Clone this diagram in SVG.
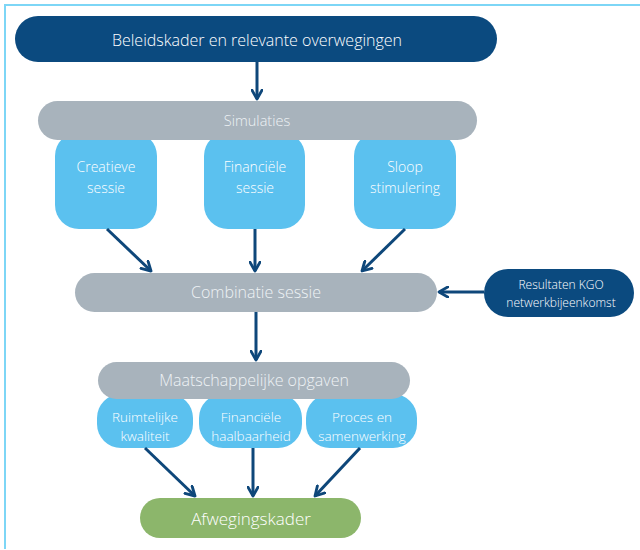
<svg xmlns="http://www.w3.org/2000/svg" width="640" height="550" viewBox="0 0 640 550">
<defs>
<style>
text{font-family:"Open Sans","Noto Sans","DejaVu Sans",sans-serif;font-weight:300;fill:#ffffff;text-anchor:middle;dominant-baseline:central}
.dark{fill:#0b4a7f}
.gray{fill:#a8b3bc}
.light{fill:#5bc1ef}
.green{fill:#8cb66b}
.t16{font-size:16px}
.t17{font-size:17px}
.t14{font-size:14.5px}
.t13{font-size:14px}
.t12{font-size:13.5px}
.t11{font-size:12px}
.graytxt{fill:#eef2f5}
.conn{stroke:#0e477a;stroke-width:3;fill:none;marker-end:url(#ah)}
</style>
<marker id="ah" viewBox="0 0 10 10" refX="8" refY="5" markerWidth="4.3" markerHeight="4.3" orient="auto" markerUnits="strokeWidth">
<path d="M1,1 L8,5 L1,9" fill="none" stroke="#0e477a" stroke-width="2.2" stroke-linecap="round" stroke-linejoin="round"/>
</marker>
</defs>
<rect width="640" height="550" fill="#ffffff"/>
<path d="M5,549 L5,5 L640,5" fill="none" stroke="#7dd6f6" stroke-width="2"/>

<g id="node-beleidskader">
<rect class="dark" x="15" y="16" width="482" height="46" rx="23"/>
<text class="t16" x="257" y="40">Beleidskader en relevante overwegingen</text>
</g>

<g id="node-creatieve">
<rect class="light" x="55" y="132" width="102" height="97" rx="24"/>
<text class="t13" x="106" y="166">Creatieve</text>
<text class="t13" x="106" y="187">sessie</text>
</g>
<g id="node-financiele-sessie">
<rect class="light" x="204" y="132" width="101" height="97" rx="24"/>
<text class="t13" x="255" y="166">Financiële</text>
<text class="t13" x="255" y="187">sessie</text>
</g>
<g id="node-sloop">
<rect class="light" x="354" y="132" width="102" height="97" rx="24"/>
<text class="t13" x="405" y="166">Sloop</text>
<text class="t13" x="405" y="187">stimulering</text>
</g>

<g id="node-simulaties">
<rect class="gray" x="38" y="101" width="439" height="39" rx="19.5"/>
<text class="t14 graytxt" x="257" y="120">Simulaties</text>
</g>

<g id="node-combinatie">
<rect class="gray" x="75" y="273" width="362" height="39" rx="19.5"/>
<text class="t16 graytxt" x="256" y="292">Combinatie sessie</text>
</g>

<g id="node-resultaten">
<rect class="dark" x="484" y="269" width="150" height="48" rx="24"/>
<text class="t11" x="561" y="284">Resultaten KGO</text>
<text class="t11" x="561" y="302">netwerkbijeenkomst</text>
</g>

<g id="node-ruimtelijke">
<rect class="light" x="97" y="394" width="96" height="54" rx="24"/>
<text class="t12" x="145" y="417">Ruimtelijke</text>
<text class="t12" x="145" y="436">kwaliteit</text>
</g>
<g id="node-haalbaarheid">
<rect class="light" x="199" y="394" width="103" height="54" rx="24"/>
<text class="t12" x="251" y="417">Financiële</text>
<text class="t12" x="251" y="436">haalbaarheid</text>
</g>
<g id="node-proces">
<rect class="light" x="306" y="394" width="111" height="54" rx="24"/>
<text class="t12" x="362" y="417">Proces en</text>
<text class="t12" x="362" y="436">samenwerking</text>
</g>

<g id="node-maatschappelijke">
<rect class="gray" x="98" y="362" width="312" height="37" rx="18.5"/>
<text class="t16 graytxt" x="254" y="380">Maatschappelijke opgaven</text>
</g>

<g id="node-afwegingskader">
<rect class="green" x="140" y="498" width="221" height="40" rx="20"/>
<text class="t17" x="251" y="518">Afwegingskader</text>
</g>

<g id="connectors">
<line class="conn" x1="257" y1="62" x2="257" y2="99"/>
<line class="conn" x1="107" y1="229" x2="151" y2="271"/>
<line class="conn" x1="255" y1="229" x2="255" y2="271"/>
<line class="conn" x1="405" y1="229" x2="362" y2="271"/>
<line class="conn" x1="484" y1="292" x2="439" y2="292"/>
<line class="conn" x1="256" y1="312" x2="256" y2="360"/>
<line class="conn" x1="145" y1="448" x2="195" y2="496"/>
<line class="conn" x1="253" y1="448" x2="253" y2="496"/>
<line class="conn" x1="360" y1="448" x2="315" y2="496"/>
</g>
</svg>
